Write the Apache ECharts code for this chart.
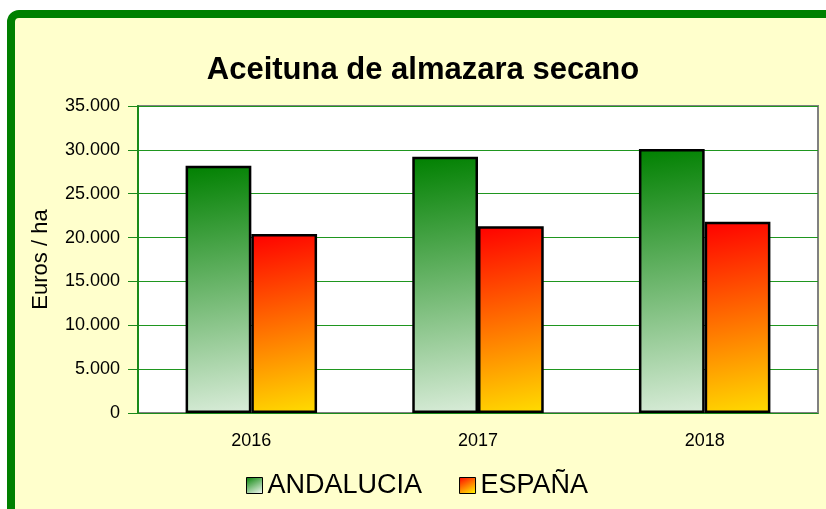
<!DOCTYPE html>
<html>
<head>
<meta charset="utf-8">
<script src="https://cdn.jsdelivr.net/npm/echarts@6/dist/echarts.min.js"></script>
<style>
  html, body { margin: 0; padding: 0; background: #ffffff; }
  #main { width: 826px; height: 509px; }
</style>
</head>
<body>
<div id="main"></div>
<script>
var years = ['2016', '2017', '2018'];
var andalucia = [28200, 29200, 30100];
var espana = [20400, 21300, 21800];
var seriesNames = ['ANDALUCIA', 'ESPAÑA'];

var myChart = echarts.init(document.getElementById('main'));

// degradados diagonales de las barras
var verde = new echarts.graphic.LinearGradient(0, 0, 0.64, 1.19, [
    { offset: 0, color: '#008000' },
    { offset: 1, color: '#ffffff' }
]);
var rojo = new echarts.graphic.LinearGradient(0, 0, 0.64, 1.19, [
    { offset: 0, color: '#ff0000' },
    { offset: 1, color: '#ffff00' }
]);

var font = 'Liberation Sans, Arial, sans-serif';

var option = {
    backgroundColor: '#ffffff',
    graphic: [{
        type: 'rect',
        z: -10,
        shape: { x: 11, y: 14, width: 900, height: 600, r: 8 },
        style: { fill: '#ffffcc', stroke: '#008000', lineWidth: 8 }
    }],
    title: {
        text: 'Aceituna de almazara secano',
        left: 418,
        textAlign: 'center',
        top: 50,
        textStyle: { fontFamily: font, fontSize: 31, fontWeight: 'bold', color: '#000' }
    },
    legend: {
        data: seriesNames,
        bottom: 5,
        left: 241,
        icon: 'rect',
        itemWidth: 16,
        itemHeight: 16,
        itemGap: 37,
        itemStyle: { borderColor: '#000', borderWidth: 1 },
        textStyle: { fontFamily: font, fontSize: 27, color: '#000' }
    },
    grid: {
        left: 138,
        top: 106,
        right: 8,
        bottom: 96,
        show: true,
        backgroundColor: '#ffffff',
        borderColor: '#808080',
        borderWidth: 2
    },
    xAxis: {
        type: 'category',
        data: years,
        axisLine: { lineStyle: { color: '#1a8a1a', width: 1 } },
        axisTick: { length: 9, lineStyle: { color: '#1a8a1a' } },
        axisLabel: { fontFamily: font, fontSize: 18, color: '#000', margin: 19 }
    },
    yAxis: {
        type: 'value',
        min: 0,
        max: 35000,
        interval: 5000,
        name: 'Euros / ha',
        nameLocation: 'middle',
        nameGap: 86,
        nameTextStyle: { fontFamily: font, fontSize: 22, color: '#000' },
        axisLine: { show: true, lineStyle: { color: '#1a8a1a', width: 2 } },
        axisTick: { show: true, length: 10, lineStyle: { color: '#1a8a1a' } },
        splitLine: { lineStyle: { color: '#1f961f', width: 1 } },
        axisLabel: {
            fontFamily: font, fontSize: 18, color: '#000', margin: 18,
            formatter: function (v) {
                return String(v).replace(/\B(?=(\d{3})+(?!\d))/g, '.');
            }
        }
    },
    series: [
        {
            name: seriesNames[0],
            type: 'bar',
            data: andalucia,
            barGap: 0,
            barCategoryGap: '42%',
            itemStyle: { color: verde, borderColor: '#000', borderWidth: 2.5 }
        },
        {
            name: seriesNames[1],
            type: 'bar',
            data: espana,
            itemStyle: { color: rojo, borderColor: '#000', borderWidth: 2.5 }
        }
    ]
};

myChart.setOption(option);
</script>
</body>
</html>
